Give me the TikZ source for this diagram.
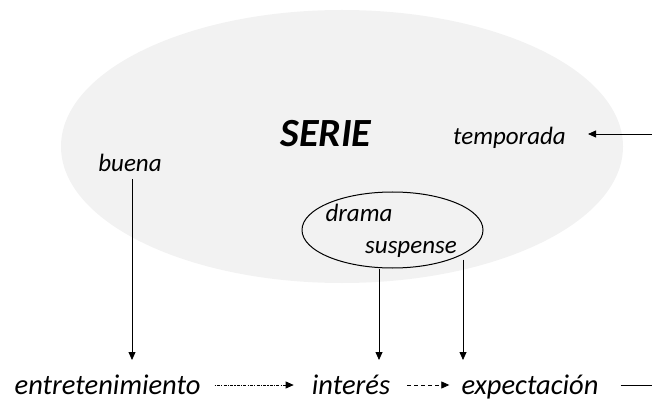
\documentclass[tikz,border=0pt]{standalone}
\usepackage{fontspec}
\setmainfont{Carlito}
\usetikzlibrary{arrows.meta,shapes.geometric}
\definecolor{blobgray}{HTML}{F2F2F2}
\begin{document}
\begin{tikzpicture}[x=1pt,y=-1pt,
  lbl/.style={font=\fontsize{25}{30}\selectfont\itshape, inner sep=0pt, anchor=base},
  lowlbl/.style={font=\fontsize{28.5}{33}\selectfont\itshape, inner sep=0pt, anchor=base},
  titlelbl/.style={font=\fontsize{40}{46}\selectfont\bfseries\itshape, inner sep=0pt, anchor=base},
  arr/.style={line width=0.8pt, -{Triangle[length=8pt,width=7pt]}},
  dotarr/.style={arr, dash pattern=on 1.2pt off 1.2pt on 3pt off 1.2pt},
  dasharr/.style={arr, dash pattern=on 4pt off 3pt},
  plainline/.style={line width=0.8pt}]
\useasboundingbox (0,0) rectangle (652,403);
\node[ellipse, fill=blobgray, draw=none, minimum width=562pt, minimum height=273pt, inner sep=0pt] (blob) at (342,146.5) {};
\node[ellipse, draw, line width=1pt, minimum width=181pt, minimum height=76pt, inner sep=0pt] (genre) at (392.5,230) {};
\node[titlelbl] (serie) at (326,147) {SERIE};
\node[lbl] (temporada) at (509.5,145) {temporada};
\node[lbl] (buena) at (130,172) {buena};
\node[lbl] (drama) at (359,222) {drama};
\node[lbl] (suspense) at (411,253) {suspense};
\node[lowlbl] (entre) at (107.5,394) {entretenimiento};
\node[lowlbl] (interes) at (351,394) {interés};
\node[lowlbl] (expect) at (530,394) {expectación};
\coordinate (tstart) at (652,134);
\coordinate (tipline) at (0,360);
\coordinate (rend) at (652,385);
% top right arrow
\draw[arr] (tstart) -- ([xshift=22pt]tstart -| temporada.east);
% vertical arrows
\draw[arr] ([xshift=2pt,yshift=-7pt]buena.south) -- ([xshift=2pt]buena.south |- tipline);
\draw[arr] ([xshift=-13.5pt]genre.south) -- ([xshift=-13.5pt]genre.south |- tipline);
\draw[arr] ([xshift=70.5pt,yshift=9pt]genre.south) -- ([xshift=70.5pt]genre.south |- tipline);
% bottom arrows
\draw[dotarr] ([shift={(14,-9)}]entre.base east) -- ([shift={(-18,-9)}]interes.base west);
\draw[dasharr] ([shift={(17,-9)}]interes.base east) -- ([shift={(-12,-9)}]expect.base west);
\draw[plainline] ([shift={(22,-9)}]expect.base east) -- (rend);
\end{tikzpicture}
\end{document}
